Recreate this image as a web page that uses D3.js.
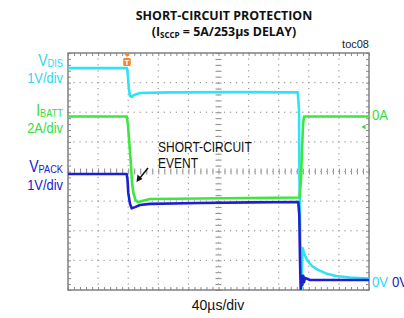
<!DOCTYPE html>
<html><head><meta charset="utf-8">
<script src="https://cdn.jsdelivr.net/npm/d3@7"></script>
<style>html,body{margin:0;padding:0;background:#fff;}svg{display:block;}</style>
</head><body>
<svg id="c" width="404" height="318"></svg>
<script>
// ---- data ----
const timeDomain = [0, 400];           // µs, 40 µs/div
const divisions = {x: 10, y: 8};
// VDIS channel (V), 1V/div
const vdisT = [0, 78.4, 79.5, 80.8, 82.4, 84.4, 87.7, 95.7, 135.5, 228.6, 305.3, 307.0, 307.6, 309.0, 310.3, 311.6, 313.6, 317.6, 324.3, 332.2, 342.9, 356.1, 374.8, 400];
const vdisV = [7.12, 7.12, 6.89, 6.45, 6.18, 6.15, 6.21, 6.28, 6.30, 6.31, 6.30, 5.71, 3.34, 0.64, -0.34, 1.05, 0.88, 0.64, 0.44, 0.31, 0.19, 0.10, 0.05, 0.02];
// IBATT channel (A), 2A/div
const ibattT = [0, 78.0, 79.7, 81.7, 83.7, 85.0, 87.0, 89.7, 93.0, 98.3, 109.0, 175.4, 241.9, 307.6, 309.6, 311.0, 312.3, 313.6, 400];
const ibattV = [0, 0, -0.57, -1.92, -3.28, -4.42, -5.17, -5.64, -5.79, -5.71, -5.57, -5.54, -5.50, -5.47, -4.29, -2.26, -0.57, 0, 0];
// VPACK channel (V), 1V/div
const vpackT = [0, 78.0, 79.1, 80.1, 82.4, 84.6, 89.0, 95.7, 109.0, 175.4, 241.9, 306.0, 307.4, 308.3, 309.2, 310.3, 311.4, 312.6, 313.6, 315.0, 321.6, 400];
const vpackV = [3.58, 3.58, 3.38, 2.94, 2.57, 2.42, 2.46, 2.53, 2.57, 2.60, 2.62, 2.63, 2.19, 0.68, -0.30, 0.14, -0.17, 0.14, -0.07, 0.07, 0, 0];
const channels = [
  {name: "VDIS", t: vdisT, v: vdisV, perDiv: 1, zeroDiv: 0.37, color: "#2ee3f3"},
  {name: "IBATT", t: ibattT, v: ibattV, perDiv: 2, zeroDiv: 5.857, color: "#3de83d"},
  {name: "VPACK", t: vpackT, v: vpackV, perDiv: 1, zeroDiv: 0.338, color: "#1f1fd2"}
];
const triggerTime = 78.4;

// ---- layout ----
const L = 68, R = 369, T = 53, B = 290;
const svg = d3.select("#c");
const x = d3.scaleLinear().domain(timeDomain).range([L, R]);
const yd = d3.scaleLinear().domain([0, divisions.y]).range([B, T]);
const xd = d3.scaleLinear().domain([0, divisions.x]).range([L, R]);

const gridColor = "#9a9a9a";
// dotted grid
const g = svg.append("g");
const minorX = d3.range(0, divisions.x * 5 + 1).map(i => i / 5);
const minorY = d3.range(0, divisions.y * 5 + 1).map(i => i / 5);
for (let i = 1; i < divisions.x; i++) {
  if (i === 5) continue;
  g.selectAll(null).data(minorY).enter().append("rect")
    .attr("x", xd(i) - 0.6).attr("y", d => yd(d) - 0.6).attr("width", 1.2).attr("height", 1.2).attr("fill", gridColor);
}
for (let j = 1; j < divisions.y; j++) {
  if (j === 4) continue;
  g.selectAll(null).data(minorX).enter().append("rect")
    .attr("x", d => xd(d) - 0.6).attr("y", yd(j) - 0.6).attr("width", 1.2).attr("height", 1.2).attr("fill", gridColor);
}
// edge ticks via axes
function styleAx(sel) {
  sel.selectAll("path").remove();
  sel.selectAll("line").attr("stroke", "#8a8a8a").attr("stroke-width", 1);
  sel.selectAll("text").remove();
}
const tx = minorX.map(d => d * 40), ty = minorY;
svg.append("g").attr("transform", `translate(0,${T})`).call(d3.axisBottom(x).tickValues(tx).tickSize(3).tickFormat("")).call(styleAx);
svg.append("g").attr("transform", `translate(0,${B})`).call(d3.axisTop(x).tickValues(tx).tickSize(3).tickFormat("")).call(styleAx);
svg.append("g").attr("transform", `translate(${L},0)`).call(d3.axisRight(yd).tickValues(ty).tickSize(3).tickFormat("")).call(styleAx);
svg.append("g").attr("transform", `translate(${R},0)`).call(d3.axisLeft(yd).tickValues(ty).tickSize(3).tickFormat("")).call(styleAx);
// center cross
const cy = yd(4), cx = xd(5);
svg.append("g").attr("transform", `translate(0,${cy})`).call(d3.axisBottom(x).tickValues(tx).tickSize(3).tickFormat("")).call(styleAx);
svg.append("g").attr("transform", `translate(0,${cy})`).call(d3.axisTop(x).tickValues(tx).tickSize(3).tickFormat("")).call(styleAx);
svg.append("g").attr("transform", `translate(${cx},0)`).call(d3.axisRight(yd).tickValues(ty).tickSize(3).tickFormat("")).call(styleAx);
svg.append("g").attr("transform", `translate(${cx},0)`).call(d3.axisLeft(yd).tickValues(ty).tickSize(3).tickFormat("")).call(styleAx);
svg.append("line").attr("x1", L).attr("x2", R).attr("y1", cy).attr("y2", cy).attr("stroke", gridColor).attr("stroke-width", 0.8).attr("stroke-dasharray", "1.2,4.8");
svg.append("line").attr("x1", cx).attr("x2", cx).attr("y1", T).attr("y2", B).attr("stroke", gridColor).attr("stroke-width", 0.8).attr("stroke-dasharray", "1.2,4.7");
// frame
svg.append("rect").attr("x", L).attr("y", T).attr("width", R - L).attr("height", B - T)
  .attr("fill", "none").attr("stroke", "#808080").attr("stroke-width", 1.5);

// traces
const clip = svg.append("clipPath").attr("id", "pc").append("rect").attr("x", L).attr("y", T).attr("width", R - L).attr("height", B - T);
channels.forEach(ch => {
  const line = d3.line().x((d, i) => x(ch.t[i])).y(d => yd(ch.zeroDiv + d / ch.perDiv));
  svg.append("path").datum(ch.v).attr("d", line).attr("fill", "none")
    .attr("stroke", ch.color).attr("stroke-width", 2.6).attr("stroke-linejoin", "round")
    .attr("clip-path", "url(#pc)");
});

// trigger marker
const txp = x(triggerTime);
svg.append("path").attr("d", `M${txp - 3.5},${T} L${txp + 3.5},${T} L${txp},${T + 4} Z`).attr("fill", "#f2852a");
svg.append("rect").attr("x", txp - 3.8).attr("y", T + 5).attr("width", 7.6).attr("height", 8).attr("rx", 1.5).attr("fill", "#f2852a");
svg.append("text").attr("x", txp).attr("y", T + 11.8).attr("text-anchor", "middle").attr("font-family", "Liberation Sans, Arial").attr("font-weight", "bold").attr("font-size", 8).attr("fill", "#fff").text("T");

// left labels
const lf = "Liberation Sans, Arial, sans-serif";
function chanLabel(main, sub, unit, yb, yu, color) {
  const t1 = svg.append("text").attr("transform", `translate(63,${yb}) scale(0.88,1)`).attr("text-anchor", "end")
    .attr("font-family", lf).attr("font-size", 16).attr("fill", color);
  t1.append("tspan").text(main);
  t1.append("tspan").attr("font-size", 10.5).attr("dy", 1).text(sub);
  svg.append("text").attr("transform", `translate(63,${yu}) scale(0.86,1)`).attr("text-anchor", "end")
    .attr("font-family", lf).attr("font-size", 15).attr("fill", color).text(unit);
}
chanLabel("V", "DIS", "1V/div", 66, 83, "#2ed6f0");
chanLabel("I", "BATT", "2A/div", 116, 133, "#38dc38");
chanLabel("V", "PACK", "1V/div", 172, 190, "#2020cc");

// right labels
svg.append("text").attr("transform", `translate(372,120) scale(0.88,1)`).attr("font-family", lf).attr("font-size", 15).attr("fill", "#38dc38").text("0A");
svg.append("text").attr("transform", `translate(372,287) scale(0.88,1)`).attr("font-family", lf).attr("font-size", 15).attr("fill", "#2ed6f0").text("0V");
svg.append("text").attr("transform", `translate(392,287) scale(0.88,1)`).attr("font-family", lf).attr("font-size", 15).attr("fill", "#2020cc").text("0V");
svg.append("path").attr("d", `M361.5,127 L365.5,124.5 L365.5,129.5 Z`).attr("fill", "#38dc38");

// annotation
svg.append("text").attr("transform", `translate(158,152) scale(0.8,1)`).attr("font-family", lf).attr("font-size", 15).attr("fill", "#111").text("SHORT-CIRCUIT");
svg.append("text").attr("transform", `translate(158,168) scale(0.8,1)`).attr("font-family", lf).attr("font-size", 15).attr("fill", "#111").text("EVENT");
svg.append("line").attr("x1", 148).attr("y1", 168).attr("x2", 139.5).attr("y2", 178.5).attr("stroke", "#111").attr("stroke-width", 1.5);
svg.append("path").attr("d", "M136.5,182 L137.5,174.5 L142.5,179 Z").attr("fill", "#111");

// titles
svg.append("text").attr("x", 224).attr("y", 20).attr("text-anchor", "middle").attr("font-family", "Open Sans, sans-serif")
  .attr("font-weight", "bold").attr("font-size", 12.4).attr("fill", "#111").text("SHORT-CIRCUIT PROTECTION");
const st = svg.append("text").attr("x", 224).attr("y", 36).attr("text-anchor", "middle").attr("font-family", "Open Sans, sans-serif")
  .attr("font-weight", "bold").attr("font-size", 12.4).attr("fill", "#111");
st.append("tspan").text("(I");
st.append("tspan").attr("font-size", 8).attr("dy", 2).text("SCCP");
st.append("tspan").attr("dy", -2).text(" = 5A/253µs DELAY)");
svg.append("text").attr("x", 369).attr("y", 48).attr("text-anchor", "end").attr("font-family", lf).attr("font-size", 11).attr("fill", "#222").text("toc08");
svg.append("text").attr("x", 218).attr("y", 310).attr("text-anchor", "middle").attr("font-family", lf).attr("font-size", 14).attr("fill", "#111").text("40µs/div");
</script>
</body></html>
